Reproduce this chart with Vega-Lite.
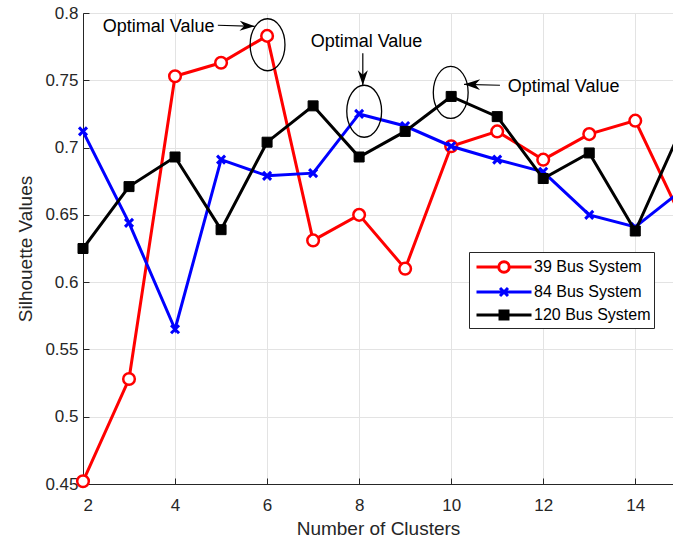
{
  "$schema": "https://vega.github.io/schema/vega-lite/v6.json",
  "width": 590,
  "height": 471,
  "autosize": {"type": "none"},
  "padding": {"left": 83, "top": 13, "right": 0, "bottom": 59},
  "background": "white",
  "config": {
    "view": {"stroke": "#262626", "strokeWidth": 1},
    "font": "Liberation Sans",
    "axis": {
      "domainColor": "#262626",
      "tickColor": "#262626",
      "labelColor": "#262626",
      "titleColor": "#262626",
      "labelFont": "Liberation Sans",
      "titleFont": "Liberation Sans",
      "labelFontSize": 17,
      "titleFontSize": 19,
      "titleFontWeight": "normal",
      "grid": true,
      "gridColor": "#e3e3e3",
      "gridWidth": 1,
      "tickSize": -6,
      "domainWidth": 1
    },
    "axisX": {"labelPadding": 19, "titlePadding": 6},
    "axisY": {"labelPadding": 11, "titlePadding": 9}
  },
  "datasets": {
    "sil": [
      {"k": 2, "series": "39 Bus System", "v": 0.452},
      {"k": 3, "series": "39 Bus System", "v": 0.528},
      {"k": 4, "series": "39 Bus System", "v": 0.753},
      {"k": 5, "series": "39 Bus System", "v": 0.763},
      {"k": 6, "series": "39 Bus System", "v": 0.783},
      {"k": 7, "series": "39 Bus System", "v": 0.631},
      {"k": 8, "series": "39 Bus System", "v": 0.650},
      {"k": 9, "series": "39 Bus System", "v": 0.610},
      {"k": 10, "series": "39 Bus System", "v": 0.701},
      {"k": 11, "series": "39 Bus System", "v": 0.712},
      {"k": 12, "series": "39 Bus System", "v": 0.691},
      {"k": 13, "series": "39 Bus System", "v": 0.710},
      {"k": 14, "series": "39 Bus System", "v": 0.720},
      {"k": 15, "series": "39 Bus System", "v": 0.648},
      {"k": 2, "series": "84 Bus System", "v": 0.712},
      {"k": 3, "series": "84 Bus System", "v": 0.644},
      {"k": 4, "series": "84 Bus System", "v": 0.565},
      {"k": 5, "series": "84 Bus System", "v": 0.691},
      {"k": 6, "series": "84 Bus System", "v": 0.679},
      {"k": 7, "series": "84 Bus System", "v": 0.681},
      {"k": 8, "series": "84 Bus System", "v": 0.725},
      {"k": 9, "series": "84 Bus System", "v": 0.716},
      {"k": 10, "series": "84 Bus System", "v": 0.701},
      {"k": 11, "series": "84 Bus System", "v": 0.691},
      {"k": 12, "series": "84 Bus System", "v": 0.682},
      {"k": 13, "series": "84 Bus System", "v": 0.650},
      {"k": 14, "series": "84 Bus System", "v": 0.641},
      {"k": 15, "series": "84 Bus System", "v": 0.668},
      {"k": 2, "series": "120 Bus System", "v": 0.625},
      {"k": 3, "series": "120 Bus System", "v": 0.671},
      {"k": 4, "series": "120 Bus System", "v": 0.693},
      {"k": 5, "series": "120 Bus System", "v": 0.639},
      {"k": 6, "series": "120 Bus System", "v": 0.704},
      {"k": 7, "series": "120 Bus System", "v": 0.731},
      {"k": 8, "series": "120 Bus System", "v": 0.693},
      {"k": 9, "series": "120 Bus System", "v": 0.712},
      {"k": 10, "series": "120 Bus System", "v": 0.738},
      {"k": 11, "series": "120 Bus System", "v": 0.723},
      {"k": 12, "series": "120 Bus System", "v": 0.677},
      {"k": 13, "series": "120 Bus System", "v": 0.696},
      {"k": 14, "series": "120 Bus System", "v": 0.638},
      {"k": 15, "series": "120 Bus System", "v": 0.714}
    ],
    "ann": [
      {"kind": "ellipse", "id": 1, "k": 6.01, "v": 0.7764},
      {"kind": "ellipse", "id": 2, "k": 8.11, "v": 0.727},
      {"kind": "ellipse", "id": 3, "k": 9.99, "v": 0.741},
      {"kind": "arrow", "id": 1, "k": 4.93, "v": 0.7909, "k2": 5.73, "v2": 0.7901},
      {"kind": "arrow", "id": 2, "k": 8.08, "v": 0.770, "k2": 8.08, "v2": 0.7463},
      {"kind": "arrow", "id": 3, "k": 11.06, "v": 0.7463, "k2": 10.28, "v2": 0.747},
      {"kind": "text", "id": 1, "k": 2.43, "v": 0.7897, "label": "Optimal Value"},
      {"kind": "text", "id": 2, "k": 8.16, "v": 0.7782, "label": "Optimal Value"},
      {"kind": "text", "id": 3, "k": 11.23, "v": 0.7448, "label": "Optimal Value"}
    ]
  },
  "layer": [
    {
      "data": {"name": "sil"},
      "transform": [{"filter": "datum.series === '39 Bus System'"}],
      "mark": {"type": "line", "color": "#ff0000", "strokeWidth": 3, "clip": true},
      "encoding": {
        "x": {"field": "k", "type": "quantitative", "scale": {"domain": [2, 14.82], "nice": false, "zero": false},
          "axis": {"values": [2, 4, 6, 8, 10, 12, 14], "title": "Number of Clusters"}},
        "y": {"field": "v", "type": "quantitative", "scale": {"domain": [0.45, 0.8], "nice": false, "zero": false},
          "axis": {"values": [0.45, 0.5, 0.55, 0.6, 0.65, 0.7, 0.75, 0.8], "format": ".2~f", "title": "Silhouette Values"}}
      }
    },
    {
      "data": {"name": "sil"},
      "transform": [{"filter": "datum.series === '39 Bus System'"}],
      "mark": {"type": "point", "shape": "circle", "size": 135, "stroke": "#ff0000", "fill": "white", "filled": false, "strokeWidth": 2.5, "opacity": 1},
      "encoding": {
        "x": {"field": "k", "type": "quantitative", "title": "Number of Clusters"},
        "y": {"field": "v", "type": "quantitative", "title": "Silhouette Values"}
      }
    },
    {
      "data": {"name": "sil"},
      "transform": [{"filter": "datum.series === '84 Bus System'"}],
      "mark": {"type": "line", "color": "#0000ff", "strokeWidth": 3, "clip": true},
      "encoding": {
        "x": {"field": "k", "type": "quantitative", "title": "Number of Clusters"},
        "y": {"field": "v", "type": "quantitative", "title": "Silhouette Values"}
      }
    },
    {
      "data": {"name": "sil"},
      "transform": [{"filter": "datum.series === '84 Bus System'"}],
      "mark": {"type": "point", "shape": "M -1 -1 L 1 1 M -1 1 L 1 -1", "size": 64, "stroke": "#0000ff", "filled": false, "strokeWidth": 3, "opacity": 1},
      "encoding": {
        "x": {"field": "k", "type": "quantitative", "title": "Number of Clusters"},
        "y": {"field": "v", "type": "quantitative", "title": "Silhouette Values"}
      }
    },
    {
      "data": {"name": "sil"},
      "transform": [{"filter": "datum.series === '120 Bus System'"}],
      "mark": {"type": "line", "color": "#000000", "strokeWidth": 3, "clip": true},
      "encoding": {
        "x": {"field": "k", "type": "quantitative", "title": "Number of Clusters"},
        "y": {"field": "v", "type": "quantitative", "title": "Silhouette Values"}
      }
    },
    {
      "data": {"name": "sil"},
      "transform": [{"filter": "datum.series === '120 Bus System'"}],
      "mark": {"type": "point", "shape": "square", "size": 100, "fill": "#000000", "stroke": "#000000", "filled": true, "strokeWidth": 1, "opacity": 1},
      "encoding": {
        "x": {"field": "k", "type": "quantitative", "title": "Number of Clusters"},
        "y": {"field": "v", "type": "quantitative", "title": "Silhouette Values"}
      }
    },
    {
      "data": {"name": "sil"},
      "mark": {"type": "point", "opacity": 0, "filled": false, "strokeWidth": 3, "clip": true},
      "encoding": {
        "x": {"field": "k", "type": "quantitative", "title": "Number of Clusters"},
        "y": {"field": "v", "type": "quantitative", "title": "Silhouette Values"},
        "color": {"field": "series", "type": "nominal",
          "scale": {"domain": ["39 Bus System", "84 Bus System", "120 Bus System"], "range": ["#ff0000", "#0000ff", "#000000"]},
          "legend": {"title": null, "orient": "none", "legendX": 386, "legendY": 239,
            "symbolSize": 441, "symbolStrokeWidth": 3, "symbolOpacity": 1, "symbolOffset": 20, "labelOffset": 18,
            "labelFont": "Liberation Sans", "labelFontSize": 16, "labelColor": "#000000",
            "padding": 3, "rowPadding": 1, "strokeColor": "#262626", "fillColor": "white", "cornerRadius": 0}},
        "shape": {"field": "series", "type": "nominal",
          "scale": {"domain": ["39 Bus System", "84 Bus System", "120 Bus System"],
            "range": [
              "M -2.62 0 L -0.5 0 M 0.5 0 L 2.62 0 M -0.5 0 A 0.5 0.5 0 1 0 0.5 0 A 0.5 0.5 0 1 0 -0.5 0",
              "M -2.62 0 L 2.62 0 M -0.38 -0.38 L 0.38 0.38 M -0.38 0.38 L 0.38 -0.38",
              "M -2.62 0 L -0.38 0 M 0.38 0 L 2.62 0 M -0.38 -0.38 L 0.38 -0.38 L 0.38 0.38 L -0.38 0.38 Z M -0.12 -0.12 L 0.12 -0.12 L 0.12 0.12 L -0.12 0.12 Z"
            ]},
          "legend": {"title": null, "orient": "none", "legendX": 386, "legendY": 239,
            "symbolSize": 441, "symbolStrokeWidth": 3, "symbolOpacity": 1, "symbolOffset": 20, "labelOffset": 18,
            "labelFont": "Liberation Sans", "labelFontSize": 16, "labelColor": "#000000",
            "padding": 3, "rowPadding": 1, "strokeColor": "#262626", "fillColor": "white", "cornerRadius": 0}}
      }
    },
    {
      "data": {"name": "ann"},
      "transform": [{"filter": "datum.kind === 'ellipse'"}],
      "mark": {"type": "point", "shape": "M 0 -1 A 0.67 1 0 1 1 0 1 A 0.67 1 0 1 1 0 -1", "size": 2704, "filled": false, "stroke": "#000000", "strokeWidth": 1.3, "opacity": 1},
      "encoding": {
        "x": {"field": "k", "type": "quantitative", "title": "Number of Clusters"},
        "y": {"field": "v", "type": "quantitative", "title": "Silhouette Values"}
      }
    },
    {
      "data": {"name": "ann"},
      "transform": [{"filter": "datum.kind === 'arrow'"}],
      "mark": {"type": "rule", "color": "#000000", "strokeWidth": 1.2},
      "encoding": {
        "x": {"field": "k", "type": "quantitative", "title": "Number of Clusters"},
        "y": {"field": "v", "type": "quantitative", "title": "Silhouette Values"},
        "x2": {"field": "k2"},
        "y2": {"field": "v2"}
      }
    },
    {
      "data": {"name": "ann"},
      "transform": [{"filter": "datum.kind === 'arrow' && datum.id === 1"}],
      "mark": {"type": "point", "shape": "M 0 0 L -2 -0.67 L -1.4 0 L -2 0.67 Z", "size": 225, "filled": true, "color": "#000000", "opacity": 1, "angle": 2},
      "encoding": {
        "x": {"field": "k2", "type": "quantitative", "title": "Number of Clusters"},
        "y": {"field": "v2", "type": "quantitative", "title": "Silhouette Values"}
      }
    },
    {
      "data": {"name": "ann"},
      "transform": [{"filter": "datum.kind === 'arrow' && datum.id === 2"}],
      "mark": {"type": "point", "shape": "M 0 0 L -2 -0.67 L -1.4 0 L -2 0.67 Z", "size": 225, "filled": true, "color": "#000000", "opacity": 1, "angle": 90},
      "encoding": {
        "x": {"field": "k2", "type": "quantitative", "title": "Number of Clusters"},
        "y": {"field": "v2", "type": "quantitative", "title": "Silhouette Values"}
      }
    },
    {
      "data": {"name": "ann"},
      "transform": [{"filter": "datum.kind === 'arrow' && datum.id === 3"}],
      "mark": {"type": "point", "shape": "M 0 0 L -2 -0.67 L -1.4 0 L -2 0.67 Z", "size": 256, "filled": true, "color": "#000000", "opacity": 1, "angle": 181},
      "encoding": {
        "x": {"field": "k2", "type": "quantitative", "title": "Number of Clusters"},
        "y": {"field": "v2", "type": "quantitative", "title": "Silhouette Values"}
      }
    },
    {
      "data": {"name": "ann"},
      "transform": [{"filter": "datum.kind === 'text' && datum.id !== 2"}],
      "mark": {"type": "text", "align": "left", "baseline": "middle", "font": "Liberation Sans", "fontSize": 18, "color": "#000000"},
      "encoding": {
        "x": {"field": "k", "type": "quantitative", "title": "Number of Clusters"},
        "y": {"field": "v", "type": "quantitative", "title": "Silhouette Values"},
        "text": {"field": "label"}
      }
    },
    {
      "data": {"name": "ann"},
      "transform": [{"filter": "datum.kind === 'text' && datum.id === 2"}],
      "mark": {"type": "text", "align": "center", "baseline": "middle", "font": "Liberation Sans", "fontSize": 18, "color": "#000000"},
      "encoding": {
        "x": {"field": "k", "type": "quantitative", "title": "Number of Clusters"},
        "y": {"field": "v", "type": "quantitative", "title": "Silhouette Values"},
        "text": {"field": "label"}
      }
    }
  ]
}
